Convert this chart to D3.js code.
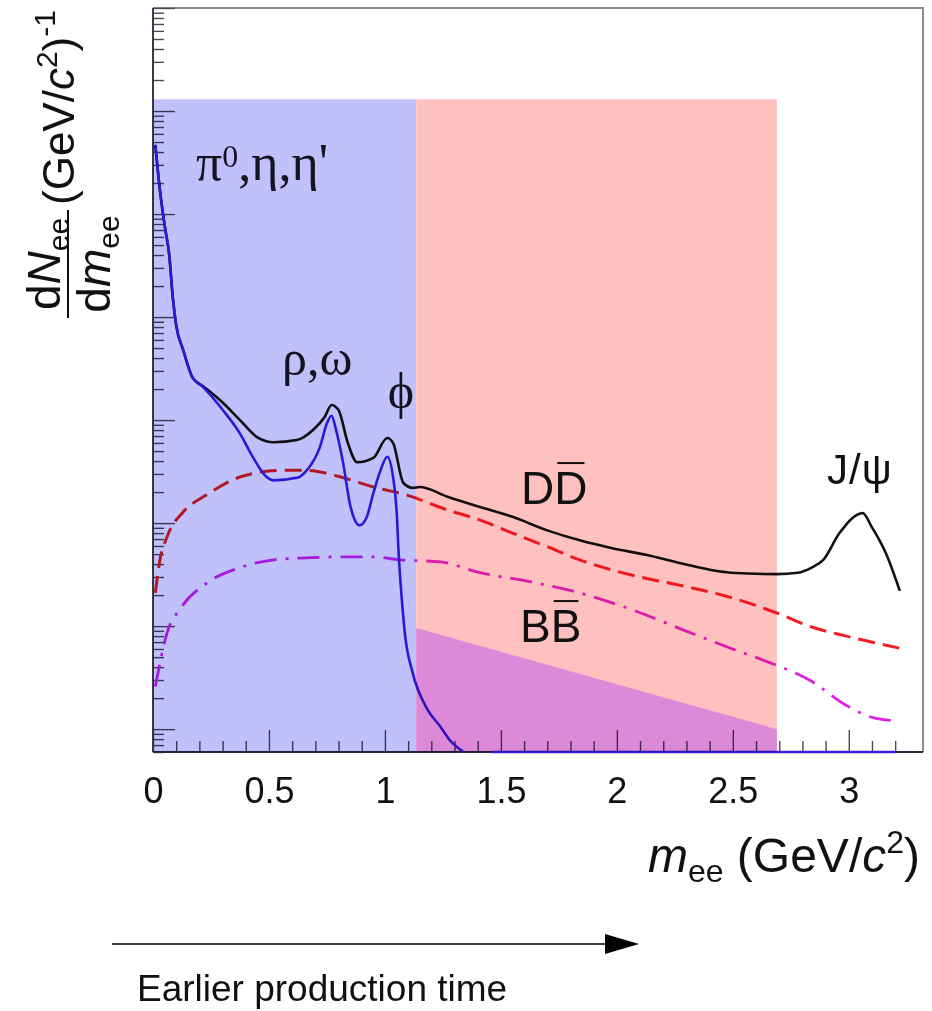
<!DOCTYPE html>
<html>
<head>
<meta charset="utf-8">
<script src="https://cdn.jsdelivr.net/npm/d3@7"></script>
<style>
  html, body { margin: 0; padding: 0; background: #fff; }
  svg { display: block; }
</style>
</head>
<body>
<svg id="chart" width="932" height="1011"></svg>
<script>
// ---- data -------------------------------------------------------------
// Invariant-mass axis (GeV/c^2) and yield axis (arbitrary units, log)
const massDomain = [0, 3.32];
const yieldDomain = [0.6, 1e7];

const xMajorTicks = [0, 0.5, 1, 1.5, 2, 2.5, 3];
const xTickLabels = ["0", "0.5", "1", "1.5", "2", "2.5", "3"];
const yDecades = [1, 10, 100, 1e3, 1e4, 1e5, 1e6, 1e7];

// Light-flavour hadron decays (pi0, eta, eta', rho, omega, phi); null = gap
const lightHadrons = [
  [0.01, 4.7e5], [0.03, 1.7e5], [0.05, 7.8e4], [0.07, 4.0e4], [0.086, 1.5e4],
  [0.10, 8.3e3], [0.13, 4.8e3], [0.17, 2.6e3], [0.215, 2.1e3], [0.30, 1260],
  [0.375, 740], [0.43, 440], [0.49, 280], [0.52, 260], [0.62, 275],
  [0.66, 320], [0.72, 550], [0.75, 930], [0.77, 1100], [0.79, 790],
  [0.82, 380], [0.85, 150], [0.87, 107], [0.89, 95], [0.92, 112],
  [0.95, 195], [0.98, 320], [1.01, 440], [1.035, 280], [1.05, 135],
  [1.06, 47], [1.073, 18], [1.086, 8.5], [1.12, 3.5], [1.18, 1.6],
  [1.24, 1.05], [1.28, 0.78], [1.34, 0.6], [1.40, null], [1.46, 0.6], [3.2, 0.6]
];

// Sum of all sources, including J/psi
const totalYield = [
  [0.01, 4.7e5], [0.03, 1.7e5], [0.05, 7.8e4], [0.07, 4.0e4], [0.086, 1.5e4],
  [0.10, 8.3e3], [0.13, 4.8e3], [0.17, 2.6e3], [0.22, 2.1e3], [0.30, 1480],
  [0.375, 1000], [0.45, 680], [0.52, 610], [0.62, 640], [0.69, 800],
  [0.74, 1070], [0.77, 1400], [0.80, 1250], [0.84, 600], [0.88, 390],
  [0.95, 430], [1.01, 670], [1.035, 600], [1.08, 245], [1.12, 220],
  [1.15, 224], [1.27, 180], [1.41, 143], [1.55, 115], [1.70, 85],
  [1.84, 68], [1.98, 57], [2.13, 49], [2.27, 41], [2.49, 33],
  [2.69, 32], [2.78, 33], [2.84, 37], [2.89, 44], [2.96, 80],
  [3.06, 125], [3.10, 91], [3.16, 51], [3.22, 22]
];

// Correlated open-charm decays (D Dbar)
const charmPairs = [
  [0.01, 21], [0.03, 44], [0.06, 73], [0.13, 128], [0.23, 187],
  [0.375, 280], [0.55, 325], [0.66, 325], [0.81, 280], [0.95, 224],
  [1.095, 187], [1.27, 134], [1.41, 107], [1.55, 80], [1.70, 59],
  [1.84, 44], [1.98, 35], [2.13, 29], [2.27, 25], [2.49, 19],
  [2.69, 13.4], [2.84, 9.8], [2.99, 8.0], [3.22, 6.1]
];

// Correlated open-beauty decays (B Bbar)
const beautyPairs = [
  [0.01, 2.6], [0.06, 8.5], [0.12, 15], [0.23, 26], [0.375, 37],
  [0.52, 44], [0.66, 46], [0.81, 47], [0.95, 47], [1.065, 44],
  [1.24, 42], [1.41, 33], [1.625, 27], [1.84, 21], [2.07, 14.3],
  [2.28, 9.3], [2.49, 6.1], [2.65, 4.5], [2.83, 3.0], [2.99, 1.7],
  [3.10, 1.3], [3.21, 1.2]
];

// Mass windows: light-flavour region, intermediate-mass region
const lightWindow = [0, 1.135];
const charmWindow = [1.135, 2.69];
const windowTop = 1.3e6;
// Edge of the beauty-dominated wedge inside the intermediate-mass window
const beautyWedge = [[1.135, 9.6], [2.69, 1.0]];

// ---- layout -----------------------------------------------------------
const plot = { left: 153, right: 923, top: 8, bottom: 752 };
const SANS = "'Liberation Sans', Arial, Helvetica, sans-serif";
const SERIF = "'Liberation Serif', 'Times New Roman', serif";

const svg = d3.select("#chart");
const x = d3.scaleLinear().domain(massDomain).range([plot.left, plot.right]);
const y = d3.scaleLog().domain(yieldDomain).range([plot.bottom, plot.top]);

// frame: top and right edges
svg.append("path")
  .attr("d", `M${plot.left},${plot.top}H${plot.right}V${plot.bottom}`)
  .attr("fill", "none").attr("stroke", "#8c8c8c").attr("stroke-width", 2);

// ---- axes -------------------------------------------------------------
const tickColor = "#4a4a55";
function styleAxis(g) {
  g.select(".domain").remove();
  g.selectAll(".tick line").attr("stroke", tickColor).attr("stroke-width", 1.4);
}

const isDecade = v => Math.abs(Math.log10(v) - Math.round(Math.log10(v))) < 1e-6;
const yMinor = y.ticks().filter(v => !isDecade(v));

svg.append("g").attr("transform", `translate(${plot.left},0)`)
  .call(d3.axisRight(y).tickValues(yMinor).tickSize(11).tickFormat(""))
  .call(styleAxis);
svg.append("g").attr("transform", `translate(${plot.left},0)`)
  .call(d3.axisRight(y).tickValues(yDecades).tickSize(22).tickFormat(""))
  .call(styleAxis);

const xMinor = d3.range(1, 33).map(i => i / 10).filter(v => Math.abs(v * 2 - Math.round(v * 2)) > 1e-6);
svg.append("g").attr("transform", `translate(0,${plot.bottom})`)
  .call(d3.axisBottom(x).tickValues(xMinor).tickSizeInner(-11).tickSizeOuter(0).tickFormat(""))
  .call(styleAxis);
const xMajorAxis = svg.append("g").attr("transform", `translate(0,${plot.bottom})`)
  .call(d3.axisBottom(x).tickValues(xMajorTicks).tickSizeInner(-22).tickSizeOuter(0)
    .tickPadding(25).tickFormat((d, i) => xTickLabels[i]))
  .call(styleAxis);
xMajorAxis.selectAll(".tick text")
  .attr("font-family", SANS).attr("font-size", 36).attr("fill", "#111");

// axis lines
svg.append("line").attr("x1", plot.left).attr("x2", plot.left)
  .attr("y1", plot.top).attr("y2", plot.bottom)
  .attr("stroke", "#3c3c48").attr("stroke-width", 2);
svg.append("line").attr("x1", plot.left).attr("x2", plot.right)
  .attr("y1", plot.bottom).attr("y2", plot.bottom)
  .attr("stroke", "#2a2a3c").attr("stroke-width", 2);

// ---- curves -----------------------------------------------------------
const line = d3.line()
  .defined(d => d[1] != null)
  .x(d => x(d[0])).y(d => y(d[1]))
  .curve(d3.curveMonotoneX);

const curves = [
  { data: beautyPairs, color: "#dc22e4", width: 2.8, dash: "22 9 3 9" },
  { data: charmPairs, color: "#ec2026", width: 3, dash: "17 8" },
  { data: totalYield, color: "#141414", width: 2.6, dash: null },
  { data: lightHadrons, color: "#3524dc", width: 2.6, dash: null }
];
svg.append("g").selectAll("path").data(curves).join("path")
  .attr("d", d => line(d.data))
  .attr("fill", "none")
  .attr("stroke", d => d.color)
  .attr("stroke-width", d => d.width)
  .attr("stroke-dasharray", d => d.dash)
  .attr("stroke-linejoin", "round");

// ---- shaded mass windows (multiplied over the curves) -----------------
const bands = svg.append("g").style("mix-blend-mode", "multiply");
[[lightWindow, "#c0c0fa"], [charmWindow, "#ffc0c0"]].forEach(([w, c]) => {
  bands.append("rect")
    .attr("x", x(w[0])).attr("y", y(windowTop))
    .attr("width", x(w[1]) - x(w[0]))
    .attr("height", plot.bottom - y(windowTop))
    .attr("fill", c);
});
const wedgePts = [
  [beautyWedge[0][0], beautyWedge[0][1]],
  [beautyWedge[1][0], beautyWedge[1][1]],
  [beautyWedge[1][0], yieldDomain[0]],
  [beautyWedge[0][0], yieldDomain[0]]
];
bands.append("path")
  .attr("d", "M" + wedgePts.map(p => `${x(p[0])},${y(p[1])}`).join("L") + "Z")
  .attr("fill", "#dc8ad8");

// ---- annotations ------------------------------------------------------
function overlined(txt, px, py, fs) {
  const t = svg.append("text").attr("x", px).attr("y", py)
    .attr("font-family", SANS).attr("font-size", fs).attr("fill", "#111").text(txt);
  const box = t.node().getExtentOfChar(1);
  const oy = py - 0.716 * fs - 8;
  svg.append("line").attr("x1", box.x + 3).attr("x2", box.x + box.width - 3)
    .attr("y1", oy).attr("y2", oy).attr("stroke", "#111").attr("stroke-width", 2);
}
overlined("DD", 521, 504, 46);
overlined("BB", 520, 642, 46);

svg.append("text").attr("x", 827).attr("y", 484)
  .attr("font-family", SANS).attr("font-size", 42).attr("letter-spacing", 1)
  .attr("fill", "#111").text("J/ψ");

const pi = svg.append("text").attr("x", 196).attr("y", 180)
  .attr("font-family", SERIF).attr("font-size", 52).attr("fill", "#141420");
pi.append("tspan").text("π");
pi.append("tspan").attr("font-size", 32).attr("dy", -13).text("0");
pi.append("tspan").attr("dy", 13).text(",η,η'");

svg.append("text").attr("x", 282).attr("y", 375)
  .attr("font-family", SERIF).attr("font-size", 50).attr("fill", "#141420").text("ρ,ω");
svg.append("text").attr("x", 401).attr("y", 408).attr("text-anchor", "middle")
  .attr("font-family", SERIF).attr("font-size", 50).attr("fill", "#141420").text("ϕ");

// ---- axis titles -------------------------------------------------------
const xt = svg.append("text").attr("x", 920).attr("y", 872).attr("text-anchor", "end")
  .attr("font-family", SANS).attr("font-size", 48).attr("fill", "#111");
xt.append("tspan").attr("font-style", "italic").text("m");
xt.append("tspan").attr("font-size", 32).attr("dy", 10).text("ee");
xt.append("tspan").attr("dy", -10).text(" (GeV/");
xt.append("tspan").attr("font-style", "italic").text("c");
xt.append("tspan").attr("font-size", 32).attr("dy", -19).text("2");
xt.append("tspan").attr("dy", 19).text(")");

// y title: fraction dN/dm followed by units, rotated
const yt = svg.append("g").attr("transform", "rotate(-90)")
  .attr("font-family", SANS).attr("fill", "#111");
const barU0 = -318, barU1 = -210, barV = 68;
yt.append("line").attr("x1", barU0).attr("x2", barU1).attr("y1", barV).attr("y2", barV)
  .attr("stroke", "#111").attr("stroke-width", 2);
const num = yt.append("text").attr("x", (barU0 + barU1) / 2).attr("y", barV - 8)
  .attr("text-anchor", "middle").attr("font-size", 46);
num.append("tspan").text("d");
num.append("tspan").attr("font-style", "italic").text("N");
num.append("tspan").attr("font-size", 30).attr("dy", 9).text("ee");
const den = yt.append("text").attr("x", (barU0 + barU1) / 2).attr("y", barV + 42)
  .attr("text-anchor", "middle").attr("font-size", 46);
den.append("tspan").text("d");
den.append("tspan").attr("font-style", "italic").text("m");
den.append("tspan").attr("font-size", 30).attr("dy", 9).text("ee");
const units = yt.append("text").attr("x", -205).attr("y", 74).attr("font-size", 44);
units.append("tspan").text("(GeV/");
units.append("tspan").attr("font-style", "italic").text("c");
units.append("tspan").attr("font-size", 30).attr("dy", -17).text("2");
units.append("tspan").attr("dy", 17).text(")");
units.append("tspan").attr("font-size", 30).attr("dy", -19).text("-1");

// ---- production-time arrow ----------------------------------------------
svg.append("line").attr("x1", 112).attr("x2", 610).attr("y1", 944).attr("y2", 944)
  .attr("stroke", "#000").attr("stroke-width", 1.5);
svg.append("path").attr("d", "M605,934L639,944L605,954Z").attr("fill", "#000");
svg.append("text").attr("x", 137).attr("y", 1001)
  .attr("font-family", SANS).attr("font-size", 37).attr("fill", "#111")
  .text("Earlier production time");
</script>
</body>
</html>
